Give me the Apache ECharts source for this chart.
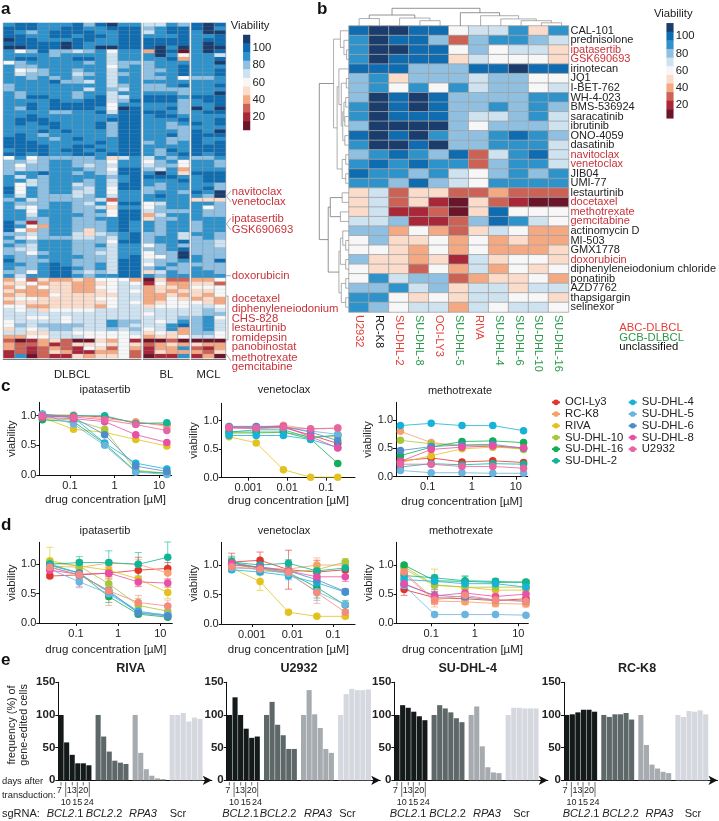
<!DOCTYPE html>
<html><head><meta charset="utf-8">
<style>html,body{margin:0;padding:0;background:#fff}#c{width:719px;height:821px}</style>
<script src="https://cdn.jsdelivr.net/npm/echarts@6/dist/echarts.min.js"></script>
</head><body><div id="c"></div>
<script>
// ---------- DATA ----------
// Panel a: one string per drug, 12 DLBCL + 4 BL + 3 MCL lines; digit = viability/10 - 1, X = 110
const heatARows = [
"899888979A88 6687 9A9","999889988999 7899 9A8","987899998899 6899 8AA","998899899899 8889 889",
"A99888998899 9999 899","99999A988899 9999 8A9","AA999A98AA99 9A8A 8AA","857977678588 3A90 8A9",
"888878888688 8A85 886","899888998688 8893 889","578888878677 7888 88A","877888888578 7889 888",
"856788788688 7789 889","867788678678 7889 889","887878788688 7785 778","888897768688 8888 888",
"788888888678 7789 889","788888868768 7777 888","878888788688 8887 88A","879988789668 9998 999",
"888898899679 9997 899","889899999588 8887 889","8798999985A9 8897 A8A","888877889699 9987 899",
"889888888899 8998 888","899988888999 8889 889","898998889799 8878 989","888898889799 8877 888",
"888989888799 8887 98A","898788888799 8897 999","998878988899 8877 988","999888889899 7878 989",
"999988998899 8888 999","899989989899 8798 999","998988998999 8789 989","585777778468 6878 778",
"776788777588 5785 887","757788767688 6775 887","767788877599 7683 888","788988787699 8A84 999",
"868788888789 9998 899","886788878689 8889 899","856788678699 8788 887","958788768599 7788 897",
"958788668588 7887 98A","868777678688 8988 87A","786777776288 8888 444","877788768599 5688 887",
"865788776488 5788 857","885888778599 6777 877","886888877599 3688 877","887788778899 4778 888",
"971788777898 8788 788","985388777898 8788 788","953788747898 8788 788","776788646789 7786 887",
"865777667689 7886 787","787888777599 7889 776","876888778688 5787 776","766888777688 7789 777",
"775788776688 577A 777","877888877689 557A 877","977788777699 6778 879","887898778699 5787 777",
"877899878699 7877 877","775899767699 4687 887","868899878899 8788 888","352433435553 0422 335",
"445344334565 1533 442","353544335566 3443 555","433344334565 3434 445","343354444466 3343 435",
"455444445566 3354 343","344444444565 3455 543","553344443566 4555 665","656455556666 6666 676",
"666666666666 5666 677","665565666666 6667 785","566665666877 6568 786","576777766876 6689 786",
"465677666767 5683 786","664466555556 4543 775","335566655555 3445 665","201342004351 0020 000",
"322312445454 2343 433","321232154253 1338 213","121243113352 1433 324","180211434452 0118 130"];

// Panel b
const drugsB = ["CAL-101","prednisolone","ipatasertib","GSK690693","irinotecan","JQ1","I-BET-762","WH-4-023","BMS-536924","saracatinib","ibrutinib","ONO-4059","dasatinib","navitoclax","venetoclax","JIB04","UMI-77","lestaurtinib","docetaxel","methotrexate","gemcitabine","actinomycin D","MI-503","GMX1778","doxorubicin","diphenyleneiodonium chloride","ponatinib","AZD7762","thapsigargin","selinexor"];
const redDrugs = ["ipatasertib","GSK690693","navitoclax","venetoclax","docetaxel","methotrexate","gemcitabine","doxorubicin"];
const linesB = ["U2932","RC-K8","SU-DHL-2","SU-DHL-8","OCI-LY3","SU-DHL-5","RIVA","SU-DHL-4","SU-DHL-6","SU-DHL-10","SU-DHL-16"];
const subtypeB = ["ABC","un","ABC","GCB","ABC","GCB","ABC","GCB","GCB","GCB","GCB"];
const heatBRows = ["9XX99566848","8X997278876","8XX99575664","8X999465554","99977799X99","78477767755","78585867756","7X9X9777788","8X9X9778787","8X999766786","7XXXX757776","9X9X8778987","8XX9X778886","78987926896","89898827886","98878657878","88797658888","46244223222","46241042100","46112049555","66711279865","77353246533","57445353433","55435353334","74434164554","54425363545","58677234453","77867466466","88545466554","87566365665"];
// Dendrograms: [node, node, height]; node >= 100 refers to merge (node-100)
const dendroCols = [[0,1,42],[3,4,30],[2,101,45],[100,102,62],[9,10,18],[8,104,30],[7,105,40],[6,106,58],[5,107,75],[103,108,100]];
const dendroRows = [[2,3,8],[1,100,17],[0,101,29],[5,6,9],[7,8,11],[9,10,14],[104,105,17],[11,12,14],[106,107,21],[103,108,26],[4,109,34],[13,14,11],[15,16,11],[111,112,23],[110,113,40],[102,114,52],[17,18,23],[19,20,29],[116,117,63],[22,23,11],[21,119,21],[24,25,11],[120,121,29],[26,27,11],[28,29,11],[123,124,26],[122,125,34],[118,126,70],[115,127,100]];
const legendLevels = [110,100,90,80,70,60,50,40,30,20,10];
const levelColors = ["#1a3d6e","#0f6cb0","#2e92cb","#8fc0e2","#cfe2f0","#f7f7f7","#fbdccb","#f4a983","#cc6155","#a8283a","#6a1529"];

// Panels c, d
const cellLines = ["OCI-Ly3","RC-K8","RIVA","SU-DHL-10","SU-DHL-16","SU-DHL-2","SU-DHL-4","SU-DHL-5","SU-DHL-6","SU-DHL-8","U2932"];
const lineColors = ["#e2342d","#f8a06b","#e3c21f","#a7c739","#0fae57","#0fb596","#16b2d8","#6cb4e0","#4f8ccb","#e84fa6","#e864a2"];
const concIpa = [0.024,0.12,0.6,3,15];
const concVen = [0.00032,0.0016,0.008,0.04,0.2];
const concMtx = [0.024,0.12,0.6,3,15];
const c1 = [[1,1,.98,.88,.85],[1.02,1.01,.95,.9,.82],[.97,.77,.72,.6,.49],[.95,.93,.77,.08,.03],[.93,.9,.53,.06,.03],[.98,1,1,.87,.88],[1.03,.97,.54,.2,.1],[1.02,.86,.5,.05,.01],[1,.97,.68,.15,.06],[.97,.95,.9,.68,.55],[1,.98,.93,.85,.75]];
const c2 = [[.88,.87,.88,.75,.6],[.9,.88,.92,.85,.87],[.72,.61,.14,.01,.01],[.78,.78,.8,.72,.72],[.8,.8,.8,.68,.25],[.8,.84,.84,.7,.75],[.74,.74,.74,.67,.53],[.88,.9,.88,.82,.76],[.9,.9,.9,.8,.65],[.87,.87,.9,.72,.52],[.88,.87,.88,.86,.87]];
const c3 = [[.28,.33,.26,.28,.25],[.8,.6,.55,.52,.5],[.25,.37,.49,.52,.5],[.64,.58,.55,.55,.48],[.37,.52,.62,.63,.6],[.17,.23,.21,.23,.22],[.9,.94,.9,.9,.81],[.11,.07,.07,.06,.06],[.46,.53,.56,.57,.5],[.27,.48,.52,.54,.51],[.22,.22,.18,.18,.15]];
const d1 = [[.8,.82,.85,.9,.93],[.97,.95,1.02,1,.85],[1.06,.97,.9,.75,.52],[1.03,.97,.67,.3,.2],[1,.85,.45,.15,.1],[1,1.03,1.03,1,1.12],[.98,.85,.52,.2,.13],[.92,.7,.5,.18,.14],[.95,.82,.55,.17,.12],[.9,.83,.85,.7,.68],[.95,.82,.55,.35,.29]];
const d1Err = [[.03,.05,.1,.22,.1],[.05,.1,.05,.08,.1],[.23,.1,.1,.12,.1],[.05,.1,.1,.12,.06],[.05,.08,.1,.04,.03],[.05,.1,.2,.2,.26],[.03,.08,.08,.04,.03],[.03,.1,.1,.03,.02],[.03,.08,.06,.03,.02],[.05,.08,.06,.08,.07],[.05,.2,.25,.12,.1]];
const d2 = [[1.05,1.08,.92,.88,.92],[1,.95,.93,1,1],[.95,.72,.2,.13,.13],[1.05,.9,.88,.92,1.05],[1.05,.95,.87,.62,.32],[1.05,1,1.03,.9,.95],[.92,.88,.82,.7,.54],[.95,.93,.85,.55,.33],[1,.97,.9,.75,.55],[1.03,.95,.9,.8,.8],[.97,.93,.88,.53,.2]];
const d2Err = [[.15,.14,.33,.2,.1],[.05,.1,.1,.12,.08],[.05,.15,.02,.02,.02],[.05,.05,.08,.08,.06],[.08,.05,.08,.18,.08],[.1,.05,.06,.08,.08],[.04,.04,.07,.1,.04],[.04,.04,.05,.15,.04],[.08,.05,.07,.1,.05],[.08,.07,.08,.08,.08],[.08,.1,.1,.18,.1]];
const d3 = [[.58,.44,.42,.39,.42],[.85,.38,.37,.34,.33],[.93,.65,.62,.57,.57],[.97,.66,.62,.62,.62],[1,.73,.72,.7,.71],[.82,.78,.73,.72,.7],[.75,.72,.68,.68,.62],[.65,.15,.15,.15,.14],[.67,.48,.45,.4,.38],[.68,.47,.52,.46,.5],[.88,.4,.48,.4,.38]];
const d3Err = [[.1,.1,.08,.08,.1],[.05,.1,.05,.06,.05],[.03,.28,.08,.08,.08],[.02,.05,.05,.05,.04],[.02,.05,.09,.03,.03],[.04,.05,.08,.05,.04],[.03,.04,.05,.04,.03],[.08,.02,.02,.02,.02],[.05,.1,.05,.06,.05],[.1,.08,.06,.08,.07],[.05,.08,.1,.1,.08]];

// Panel e
const eTitles = ["RIVA","U2932","SU-DHL-4","RC-K8"];
const eGroupColors = ["#141a1a","#5f6868","#a6abb0","#d5d8de"];
const eValues = [
 [[100,58,39,26,26,23],[100,67,44,30,27,25],[100,42,17,7,3,2],[100,100,103,90,96,94]],
 [[100,127,100,79,65,67],[100,120,85,69,48,48],[100,138,101,80,48,42],[100,132,140,138,138,139]],
 [[100,115,111,105,98,92],[100,115,110,104,95,89],[100,113,52,20,12,11],[100,111,111,110,110,110]],
 [[100,101,104,108,108,105],[100,97,101,101,103,93],[100,54,24,18,13,11],[100,97,106,105,107,101]]];
const aNotes = [["navitoclax",191.7],["venetoclax",202],["ipatasertib",218.7],["GSK690693",230],["doxorubicin",275.7],["docetaxel",299],["diphenyleneiodonium",309],["CHS-828",319],["lestaurtinib",328],["romidepsin",337.7],["panobinostat",347.3],["methotrexate",357.7],["gemcitabine",366.7]];

// ---------- BUILD ----------
const FONT = '"Liberation Sans", Arial, sans-serif';
const INK = '#222', RED = '#c9323a', GREEN = '#2a9a4a', REDB = '#e5403a';
const grids = [], xAxes = [], yAxes = [], series = [], els = [], heatIdx = [];
function addGrid(g, x, y) {
  grids.push(Object.assign({containLabel:false}, g));
  const i = grids.length - 1;
  xAxes.push(Object.assign({gridIndex:i}, x));
  yAxes.push(Object.assign({gridIndex:i}, y));
  return i;
}
const none = {axisLine:{show:false},axisTick:{show:false},axisLabel:{show:false},splitLine:{show:false}};
function text(t, x, y, o) {
  o = o || {};
  els.push({type:'text', silent:true, z:50, style:Object.assign({text:t, x, y, fill:o.fill||INK, font:(o.weight||'normal')+' '+(o.size||11)+'px '+FONT, textAlign:o.align||'left', textVerticalAlign:'middle'}, o.extra||{})});
}
function vtext(t, x, y, size) {
  els.push({type:'text', silent:true, z:50, x, y, rotation:Math.PI/2, style:{text:t, x:0, y:0, fill:INK, font:size+'px '+FONT, textAlign:'center', textVerticalAlign:'middle'}});
}
function poly(points, color, w, z) {
  els.push({type:'polyline', silent:true, z:z||40, shape:{points}, style:{stroke:color||'#888', fill:null, lineWidth:w||0.7}});
}
function heat(grid, data, border, bw) {
  heatIdx.push(series.length);
  series.push({type:'heatmap', xAxisIndex:grid, yAxisIndex:grid, data, itemStyle:{borderColor:border, borderWidth:bw}, emphasis:{disabled:true}, progressive:0, animation:false});
}
const lvl = ch => ch === 'X' || ch === 'A' ? 110 : (Number(ch) + 1) * 10;

// Panel a heatmaps
const A = heatARows.map(r => r.replace(/ /g,''));
const nRows = A.length;
[["DLBCL",0,12,3.3,137.7],["BL",12,4,143.3,46],["MCL",16,3,191.3,34.4]].forEach(([nm,st,n,l,w]) => {
  const g = addGrid({left:l,top:23,width:w,height:335},
    {type:'category',data:Array.from({length:n},(_, i)=>i),name:nm,nameLocation:'middle',nameGap:10,offset:1.5,nameTextStyle:{fontFamily:FONT,fontSize:11.3,color:INK},axisLine:{show:true,lineStyle:{color:'#777',width:1.2}},axisTick:{show:false},axisLabel:{show:false},splitLine:{show:false}},
    Object.assign({type:'category',inverse:true,data:A.map((_, i)=>i)},none));
  const data = [];
  A.forEach((row,y)=>{for(let i=0;i<n;i++)data.push([i,y,lvl(row[st+i])]);});
  heat(g,data,'rgba(150,160,170,0.3)',0.4);
  for(let i=0;i<=n;i++){const x=l+i*w/n;poly([[x,23],[x,358]],'#8f9aa5',0.6,20);}
});
// Panel a labels
text('Viability',230.7,25.7,{size:11.3});
aNotes.forEach(([t,y])=>text(t,231.7,y,{fill:RED,size:11.3}));
poly([[231,191],[226.5,196],[231,202]]);
poly([[231,218],[226.5,224],[231,230]]);
poly([[226,275.7],[231,275.7]]);
poly([[226,296],[228,296],[228,340],[226,340]]);
poly([[226,354],[229,358],[231,361]]);

// Legends for heatmaps
function heatLegend(l,t,w,h){
  const g = addGrid({left:l,top:t,width:w,height:h},
    Object.assign({type:'category',data:[0]},none),
    {type:'category',inverse:true,position:'right',data:legendLevels,axisLine:{show:false},axisTick:{show:false},splitLine:{show:false},
     axisLabel:{show:true,interval:0,margin:2.5,fontFamily:FONT,fontSize:11.3,color:INK,formatter:v=>(Number(v)%20===0 && Number(v)<=100)?v:''}});
  heat(g,legendLevels.map((v,i)=>[0,i,v]),'transparent',0);
}
heatLegend(243.3,35,6.7,95);
heatLegend(666.7,23.3,6.6,95);
text('Viability',673.3,14.3,{size:11.3,align:'center'});

// Panel b heatmap
const gb = addGrid({left:349,top:26,width:222.7,height:286},
  {type:'category',data:linesB,position:'bottom',axisLine:{show:false},axisTick:{show:false},splitLine:{show:false},
   axisLabel:{show:true,interval:0,rotate:-90,margin:3,fontFamily:FONT,fontSize:11,color:(v)=>{const s=subtypeB[linesB.indexOf(v)];return s==='ABC'?REDB:s==='GCB'?GREEN:'#111';}}},
  {type:'category',inverse:true,position:'right',data:drugsB,axisLine:{show:false},axisTick:{show:false},splitLine:{show:false},
   axisLabel:{show:true,interval:0,margin:2,fontFamily:FONT,fontSize:11,color:(v)=>redDrugs.includes(v)?RED:INK}});
const bData=[];
heatBRows.forEach((row,y)=>{for(let x=0;x<row.length;x++)bData.push([x,y,lvl(row[x])]);});
heat(gb,bData,'#a2a2a2',0.8);
text('ABC-DLBCL',619.3,327.7,{fill:REDB,size:11.3});
text('GCB-DLBCL',619.3,338.3,{fill:GREEN,size:11.3});
text('unclassified',619.3,346.7,{fill:'#111',size:11.3});

// Dendrograms
function dendro(merges, n){
  const pos=[], segs=[];
  const node=k=>k>=100?pos[k-100]:{c:k+0.5,h:0};
  merges.forEach(([a,b,h])=>{const A=node(a),B=node(b);segs.push([A.c,A.h,B.c,B.h,h]);pos.push({c:(A.c+B.c)/2,h});});
  return segs;
}
function dendroSeries(grid,segs,vertical){
  series.push({type:'custom',xAxisIndex:grid,yAxisIndex:grid,clip:false,silent:true,data:segs,
    renderItem:(p,api)=>{
      const [c1,h1,c2,h2,h]=[0,1,2,3,4].map(i=>api.value(i));
      const P=(c,v)=>api.coord(vertical?[v,c]:[c,v]);
      return {type:'polyline',shape:{points:[P(c1,h1),P(c1,h),P(c2,h),P(c2,h2)]},style:{stroke:h>=60?'#777':'#999',fill:null,lineWidth:0.8}};
    }});
}
const gt = addGrid({left:349,top:8.3,width:222.7,height:17.7},
  Object.assign({type:'value',min:0,max:11},none),Object.assign({type:'value',min:0,max:100},none));
dendroSeries(gt,dendro(dendroCols,11),false);
const gl = addGrid({left:319.3,top:26,width:29.7,height:286},
  Object.assign({type:'value',min:0,max:100,inverse:true},none),Object.assign({type:'value',min:0,max:30,inverse:true},none));
dendroSeries(gl,dendro(dendroRows,30),true);

// Panels c and d
function doseChart(o){
  const left=o.ax, g = addGrid({left,top:o.top,width:o.right-left,height:o.y0-o.top},
   {type:'value',min:o.xMin,max:o.xMax,splitLine:{show:false},
    name:'drug concentration [µM]',nameLocation:'middle',nameGap:o.nameGap||19,nameTextStyle:{fontFamily:FONT,fontSize:11.5,color:INK},
    axisLine:{onZero:false,lineStyle:{color:'#111',width:1}},
    axisTick:{customValues:o.ticks,length:3,lineStyle:{color:'#111',width:1}},
    axisLabel:{customValues:o.ticks,margin:5,fontFamily:FONT,fontSize:11,color:INK,formatter:v=>o.tickLabels[o.ticks.indexOf(v)]}},
   {type:'value',min:0,max:o.yMax,splitLine:{show:false},
    name:'viability',nameLocation:'middle',nameGap:19.5,nameTextStyle:{fontFamily:FONT,fontSize:11.2,color:INK},
    axisLine:{show:true,onZero:false,lineStyle:{color:'#111',width:1}},
    axisTick:{customValues:[0,.5,1],length:3,lineStyle:{color:'#111',width:1}},
    axisLabel:{customValues:[0,.5,1],margin:3,fontFamily:FONT,fontSize:11,color:INK,formatter:v=>v.toFixed(1)}});
  const X=o.conc.map(c=>Math.log10(c));
  cellLines.forEach((nm,i)=>{
    const col=(o.colors||lineColors)[i];
    if(o.err){
      series.push({type:'custom',xAxisIndex:g,yAxisIndex:g,silent:true,z:2,clip:false,
        data:o.vals[i].map((v,k)=>[X[k],v-o.err[i][k],v+o.err[i][k]]),
        renderItem:(p,api)=>{
          const a=api.coord([api.value(0),api.value(1)]), b=api.coord([api.value(0),api.value(2)]);
          const st={stroke:col,lineWidth:0.8,opacity:0.75};
          return {type:'group',children:[
            {type:'line',shape:{x1:a[0],y1:a[1],x2:b[0],y2:b[1]},style:st},
            {type:'line',shape:{x1:a[0]-3.5,y1:a[1],x2:a[0]+3.5,y2:a[1]},style:st},
            {type:'line',shape:{x1:b[0]-3.5,y1:b[1],x2:b[0]+3.5,y2:b[1]},style:st}]};
        }});
    }
    series.push({type:'line',name:nm,xAxisIndex:g,yAxisIndex:g,z:3+i*0.01,clip:false,symbol:'circle',symbolSize:7.5,
      lineStyle:{width:0.8,color:col},itemStyle:{color:col},emphasis:{disabled:true},
      data:o.vals[i].map((v,k)=>[X[k],v])});
  });
}
const tk1=[-1,0,1], tkL1=['0.1','1','10'], tk2=[-3,-2,-1], tkL2=['0.001','0.01','0.1'];
doseChart({ax:39.3,right:171.7,top:402.3,y0:475,yMax:1.226,xMin:-1.69,xMax:1.285,ticks:tk1,tickLabels:tkL1,conc:concIpa,vals:c1});
doseChart({ax:221.7,right:355,top:403.3,y0:477.7,yMax:1.305,xMin:-3.684,xMax:-0.255,ticks:tk2,tickLabels:tkL2,conc:concVen,vals:c2,nameGap:17});
doseChart({ax:396,right:527.7,top:402.3,y0:476.7,yMax:1.31,xMin:-1.72,xMax:1.27,ticks:tk1,tickLabels:tkL1,conc:concMtx,vals:c3});
const dColors = lineColors.slice(); dColors[10]='#f58a7e';
doseChart({ax:39.3,right:172.3,top:542.3,y0:623,yMax:1.375,xMin:-1.87,xMax:1.284,ticks:tk1,tickLabels:tkL1,conc:concIpa,vals:d1,err:d1Err,colors:dColors,nameGap:20.5});
doseChart({ax:221.7,right:355,top:542.3,y0:624,yMax:1.385,xMin:-3.74,xMax:-0.46,ticks:tk2,tickLabels:tkL2,conc:concVen,vals:d2,err:d2Err,colors:dColors,nameGap:20});
doseChart({ax:396.7,right:528.3,top:542.3,y0:623.3,yMax:1.39,xMin:-1.79,xMax:1.23,ticks:tk1,tickLabels:tkL1,conc:concMtx,vals:d3,err:d3Err,colors:dColors,nameGap:20.5});
[["ipatasertib",105,390],["venetoclax",284,390],["methotrexate",460,391],["ipatasertib",105,531],["venetoclax",284,531],["methotrexate",461,531]].forEach(([t,x,y])=>text(t,x,y,{size:11,align:'center'}));

// Panel e
const eLeft=[58.3,226.7,394.3,564], eCenter=[130.7,299,467.7,637];
const eText=[[65,104,143,178],[240.5,278,318,347.5],[408,447.5,487,521.5],[581,620.5,659.5,693]];
eValues.forEach((groups,p)=>{
  const g=addGrid({left:eLeft[p],top:682.3,width:153.5,height:98},
   {type:'value',min:0,max:27.6,splitLine:{show:false},axisTick:{show:false},axisLabel:{show:false},
    axisLine:{show:true,symbol:['none','arrow'],symbolSize:[7,9],lineStyle:{color:'#111',width:1.2}}},
   {type:'value',min:0,max:150,interval:50,splitLine:{show:false},
    axisLine:{show:true,lineStyle:{color:'#111',width:1}},axisTick:{length:3,lineStyle:{color:'#111'}},
    axisLabel:{margin:3,fontFamily:FONT,fontSize:11.5,fontWeight:'bold',color:INK}});
  const data=[];
  groups.forEach((vals,gi)=>vals.forEach((v,i)=>data.push({value:[0.5+gi*6.66+i,v],itemStyle:{color:eGroupColors[gi]}})));
  series.push({type:'bar',xAxisIndex:g,yAxisIndex:g,barWidth:5.1,data,emphasis:{disabled:true}});
  text(eTitles[p],eCenter[p],669,{size:12.5,weight:'bold',align:'center'});
  const L=eLeft[p];
  [[1,790.7,'7'],[13.4,790.7,'13'],[25,790.7,'20'],[7.4,802.7,'10'],[19,802.7,'15'],[30.4,802.7,'24']].forEach(([dx,y,t])=>text(t,L+dx,y,{size:9,align:'center'}));
  [2.7,14,25].forEach(dx=>poly([[L+dx,782],[L+dx,785.5]],'#333',0.7));
  [7.4,19,31].forEach(dx=>poly([[L+dx,782],[L+dx,797]],'#333',0.7));
  [0,1,2,3].forEach(k=>{
    const rich={i:{font:'italic 11px '+FONT,fill:INK},n:{font:'11px '+FONT,fill:INK}};
    const str=k<2?'{i|BCL2}{n|.'+(k+1)+'}':k===2?'{i|RPA3}':'{n|Scr}';
    els.push({type:'text',silent:true,z:50,style:{text:str,rich,x:eText[p][k],y:814,textAlign:'center',textVerticalAlign:'middle',font:'11px '+FONT,fill:INK}});
  });
});
vtext('frequency (%) of',12,725,10.8);
vtext('gene-edited cells',24,725,10.8);
text('days after',2,781.7,{size:9.4});
text('transduction:',2,795,{size:9.4});
text('sgRNA:',2,814,{size:11});

// Panel letters
[['a',1,9],['b',317,9],['c',1,386],['d',1,525],['e',1,660]].forEach(([t,x,y])=>text(t,x,y,{size:17,weight:'bold',fill:'#111'}));

const option = {
  backgroundColor:'#fff', animation:false, textStyle:{fontFamily:FONT},
  grid:grids, xAxis:xAxes, yAxis:yAxes, series,
  visualMap:{type:'piecewise',show:false,dimension:2,seriesIndex:heatIdx,
    pieces:legendLevels.map((v,i)=>({min:v-5,max:v+5,color:levelColors[i]}))},
  legend:[
    {left:551,top:396.5,padding:0,orient:'vertical',itemWidth:8,itemHeight:7,itemGap:0,selectedMode:false,data:cellLines.slice(0,6),textStyle:{fontFamily:FONT,fontSize:11.3,color:INK,lineHeight:11.7}},
    {left:627.7,top:396.5,padding:0,orient:'vertical',itemWidth:8,itemHeight:7,itemGap:0,selectedMode:false,data:cellLines.slice(6),textStyle:{fontFamily:FONT,fontSize:11.3,color:INK,lineHeight:11.7}}
  ],
  graphic:{elements:els}
};
echarts.init(document.getElementById('c'),null,{renderer:'canvas'}).setOption(option);
</script></body></html>
